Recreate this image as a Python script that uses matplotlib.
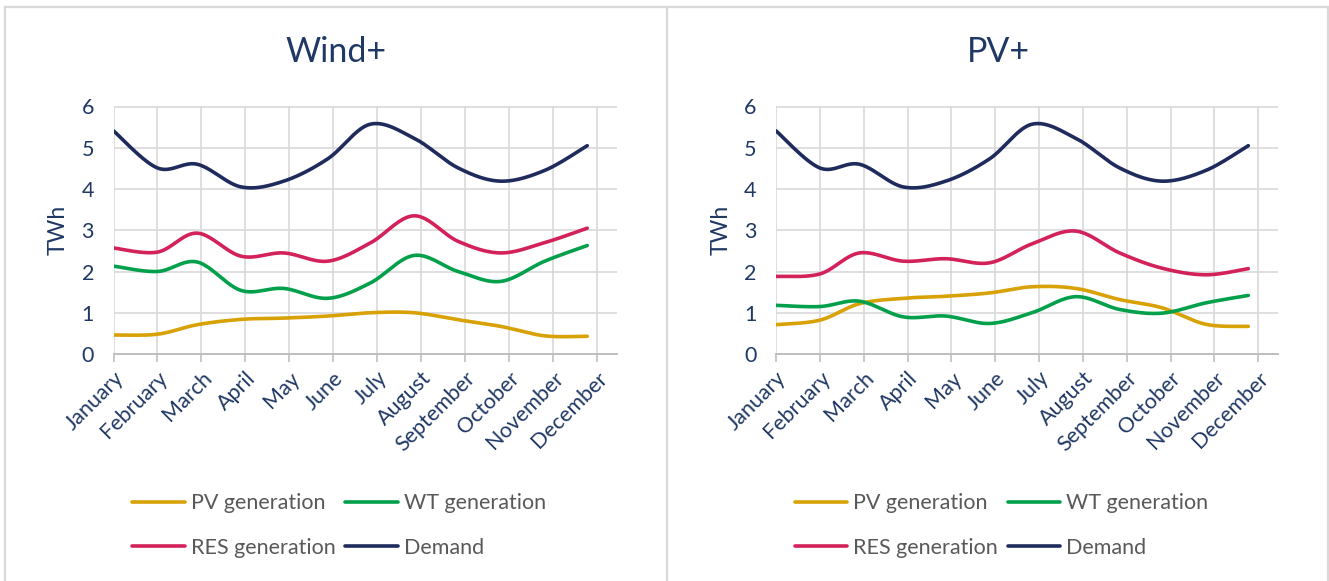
import numpy as np
import matplotlib
matplotlib.use("Agg")
import matplotlib.pyplot as plt
from matplotlib.lines import Line2D

# Month start (day of year, 0-based) for each monthly value
day_of_year = [0, 31, 59, 90, 120, 151, 181, 212, 243, 273, 304, 334]
months = ["January", "February", "March", "April", "May", "June", "July",
          "August", "September", "October", "November", "December"]

demand = [5.41, 4.51, 4.60, 4.05, 4.19, 4.73, 5.57, 5.23, 4.51, 4.19, 4.45, 5.05]

wind_pv = [0.46, 0.48, 0.71, 0.84, 0.87, 0.92, 1.00, 1.00, 0.83, 0.67, 0.44, 0.43]
wind_wt = [2.13, 2.00, 2.23, 1.54, 1.59, 1.35, 1.72, 2.39, 2.00, 1.76, 2.25, 2.63]
wind_res = [2.57, 2.47, 2.93, 2.37, 2.45, 2.25, 2.69, 3.35, 2.73, 2.45, 2.70, 3.05]

pvp_pv = [0.71, 0.82, 1.22, 1.35, 1.40, 1.48, 1.63, 1.59, 1.32, 1.12, 0.72, 0.67]
pvp_wt = [1.18, 1.15, 1.28, 0.90, 0.92, 0.74, 1.00, 1.39, 1.08, 0.99, 1.24, 1.42]
pvp_res = [1.88, 1.94, 2.45, 2.25, 2.31, 2.21, 2.67, 2.98, 2.45, 2.08, 1.92, 2.07]

C_PV = "#D8A106"
C_WT = "#02A04B"
C_RES = "#D3215A"
C_DEM = "#1E2B5C"
NAVY = "#1F3864"
GRID = "#D9D9D9"
LEGEND_TXT = "#595959"

FONT = "Lato"
W, H = 1329, 581


def smooth(xs, ys, n=40):
    """Piecewise cubic Bezier through the points (Catmull-Rom style)."""
    p = np.column_stack([xs, ys]).astype(float)
    ext = np.vstack([p[0], p, p[-1]])
    t = np.linspace(0, 1, n)[:, None]
    out = []
    for i in range(1, len(ext) - 2):
        p0, p1, p2, p3 = ext[i - 1], ext[i], ext[i + 1], ext[i + 2]
        c1 = p1 + (p2 - p0) / 6.0
        c2 = p2 - (p3 - p1) / 6.0
        seg = ((1 - t) ** 3) * p1 + 3 * ((1 - t) ** 2) * t * c1 \
            + 3 * (1 - t) * t ** 2 * c2 + t ** 3 * p2
        out.append(seg if i == 1 else seg[1:])
    s = np.vstack(out)
    return s[:, 0], s[:, 1]


fig = plt.figure(figsize=(W / 100, H / 100), dpi=100)
fig.patch.set_facecolor("white")


def px(x, y):
    return x / W, 1 - y / H


# Panel frames
for (x0, y0), (x1, y1) in [((5, 7), (1328, 7)), ((5, 7), (5, 581)),
                           ((667, 7), (667, 581)), ((1328, 7), (1328, 581))]:
    a, b = px(x0, y0)
    c, d = px(x1, y1)
    fig.add_artist(Line2D([a, c], [b, d], color=GRID, lw=1.6,
                          transform=fig.transFigure))

panels = [
    ("Wind+", 113.5, 617, 336, wind_pv, wind_wt, wind_res),
    ("PV+", 776, 1278, 998, pvp_pv, pvp_wt, pvp_res),
]

y_top, y_bot = 106.5, 354

for title, xl, xr, xc, pv, wt, res in panels:
    ax = fig.add_axes([xl / W, 1 - y_bot / H, (xr - xl) / W, (y_bot - y_top) / H])
    handles = {}
    for vals, col, name in [(pv, C_PV, "PV generation"),
                            (wt, C_WT, "WT generation"),
                            (res, C_RES, "RES generation"),
                            (demand, C_DEM, "Demand")]:
        sx, sy = smooth(day_of_year, vals)
        ln, = ax.plot(sx, sy, color=col, lw=2.6, solid_capstyle="round",
                      label=name, zorder=3)
        handles[name] = ln

    ax.set_xlim(0, 355)
    ax.set_ylim(0, 6)
    ax.set_xticks(np.arange(12) * 31)
    ax.set_xticklabels(months, rotation=45, ha="right", va="top",
                       rotation_mode="anchor", fontsize=15.5,
                       family=FONT, color=NAVY)
    ax.set_yticks(range(7))
    ax.set_yticklabels([str(i) for i in range(7)], fontsize=15.5,
                       family=FONT, color=NAVY)
    ax.tick_params(axis="x", length=6, width=1.2, color="#BFBFBF", pad=4)
    ax.tick_params(axis="y", length=0, pad=14)
    ax.grid(True, color=GRID, lw=1.2, zorder=0)
    for s in ["top", "right", "left"]:
        ax.spines[s].set_visible(False)
    ax.spines["bottom"].set_color("#BFBFBF")
    ax.spines["bottom"].set_linewidth(1.4)
    ax.set_axisbelow(True)
    ax.set_ylabel("TWh", fontsize=16.5, family=FONT, color=NAVY, labelpad=9)

    tx, ty = px(xc, 52)
    fig.text(tx, ty, title, ha="center", va="center", fontsize=24.5,
             family=FONT, color=NAVY)

    order = ["PV generation", "RES generation", "WT generation", "Demand"]
    lx, ly = px(xl + 18.5, 525.5)
    leg = fig.legend([handles[k] for k in order], order, ncol=2,
                     loc="center left", bbox_to_anchor=(lx, ly),
                     bbox_transform=fig.transFigure, frameon=False,
                     prop={"family": FONT, "size": 15.5},
                     handlelength=2.45, handletextpad=0.28, columnspacing=0.45,
                     labelspacing=1.12, borderpad=0, borderaxespad=0)
    for t in leg.get_texts():
        t.set_color(LEGEND_TXT)

fig.savefig("out.png", dpi=100, facecolor="white")
